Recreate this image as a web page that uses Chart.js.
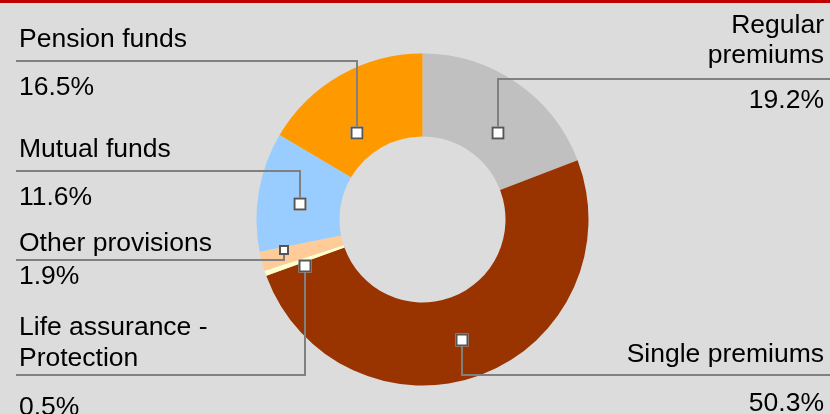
<!DOCTYPE html>
<html>
<head>
<meta charset="utf-8">
<script src="https://cdn.jsdelivr.net/npm/chart.js@4/dist/chart.umd.min.js"></script>
<style>
  html, body { margin: 0; padding: 0; background: #dcdcdc; }
  #wrap { position: relative; width: 830px; height: 414px; overflow: hidden; }
  #bar { position: absolute; left: 0; top: 0; width: 830px; height: 3px; background: #c00000; }
</style>
</head>
<body>
<div id="wrap">
  <canvas id="myGraph" width="830" height="414"></canvas>
  <div id="bar"></div>
</div>
<script>
"use strict";

// slices, clockwise from 12 o'clock
let categories = ["Regular premiums", "Single premiums", "Life assurance - Protection", "Other provisions", "Mutual funds", "Pension funds"];
let shares = [19.2, 50.3, 0.5, 1.9, 11.6, 16.5];
let sliceColors = ["#c0c0c0", "#993300", "#ffffcc", "#ffcc99", "#99ccff", "#ff9900"];

// where each label sits (text lines, baselines, leader line height, box nudge)
let labelLayout = [
    { side: "right", lines: ["Regular", "premiums"], baselines: [33, 63], lineY: 79, pctY: 108, nudge: 6.4, rf: 0.69, box: 13 },
    { side: "right", lines: ["Single premiums"], baselines: [362], lineY: 375, pctY: 411, nudge: 2.1, rf: 0.766, box: 13 },
    { side: "left", lines: ["Life assurance -", "Protection"], baselines: [335, 366], lineY: 375, pctY: 415, nudge: -2.8, rf: 0.762, box: 13 },
    { side: "left", lines: ["Other provisions"], baselines: [251], lineY: 260, pctY: 284, nudge: 2.0, rf: 0.855, box: 10 },
    { side: "left", lines: ["Mutual funds"], baselines: [157], lineY: 171, pctY: 205, nudge: -2.5, rf: 0.746, box: 13 },
    { side: "left", lines: ["Pension funds"], baselines: [47], lineY: 61, pctY: 95, nudge: -7.4, rf: 0.657, box: 13 },
];

const leaderPlugin = {
    id: "leaders",
    afterDatasetsDraw(chart) {
        const ctx = chart.ctx;
        const meta = chart.getDatasetMeta(0);
        ctx.save();
        ctx.font = "26.5px 'Liberation Sans', Arial, sans-serif";
        ctx.fillStyle = "#000";
        ctx.textBaseline = "alphabetic";

        for (let i = 0; i < meta.data.length; i++) {
            const arc = meta.data[i];
            const lay = labelLayout[i];
            const mid = (arc.startAngle + arc.endAngle) / 2 + lay.nudge * Math.PI / 180;
            const r = arc.outerRadius * lay.rf;
            const bx = Math.round(arc.x + Math.cos(mid) * r);
            const by = Math.round(arc.y + Math.sin(mid) * r);
            const half = lay.box / 2;

            // leader line
            ctx.strokeStyle = "#808080";
            ctx.lineWidth = 2;
            ctx.beginPath();
            if (lay.side === "left") {
                ctx.moveTo(16, lay.lineY);
            } else {
                ctx.moveTo(830, lay.lineY);
            }
            ctx.lineTo(bx, lay.lineY);
            ctx.lineTo(bx, by);
            ctx.stroke();

            // little box on the slice
            ctx.fillStyle = "#fff";
            ctx.fillRect(bx - half, by - half, lay.box, lay.box);
            ctx.strokeStyle = "#555";
            ctx.lineWidth = 2;
            ctx.strokeRect(bx - half + 1, by - half + 1, lay.box - 2, lay.box - 2);

            // texts
            ctx.fillStyle = "#000";
            let tx;
            if (lay.side === "left") {
                ctx.textAlign = "left";
                tx = 19;
            } else {
                ctx.textAlign = "right";
                tx = 824;
            }
            for (let j = 0; j < lay.lines.length; j++) {
                ctx.fillText(lay.lines[j], tx, lay.baselines[j]);
            }
            ctx.fillText(shares[i].toFixed(1) + "%", tx, lay.pctY);
        }
        ctx.restore();
    },
};

const data = {
    labels: categories,
    datasets: [
        {
            data: shares,
            backgroundColor: sliceColors,
            borderWidth: 0,
            hoverOffset: 0,
        },
    ],
};

const config = {
    type: "doughnut",
    data: data,
    options: {
        responsive: false,
        animation: false,
        events: [],
        radius: 166,
        cutout: "50%",
        layout: {
            padding: { left: 257, right: 242, top: 53, bottom: 28 },
        },
        plugins: {
            legend: { display: false },
            tooltip: { enabled: false },
        },
    },
    plugins: [leaderPlugin],
};

const canvasChart = document.getElementById("myGraph");
new Chart(canvasChart, config);
</script>
</body>
</html>
